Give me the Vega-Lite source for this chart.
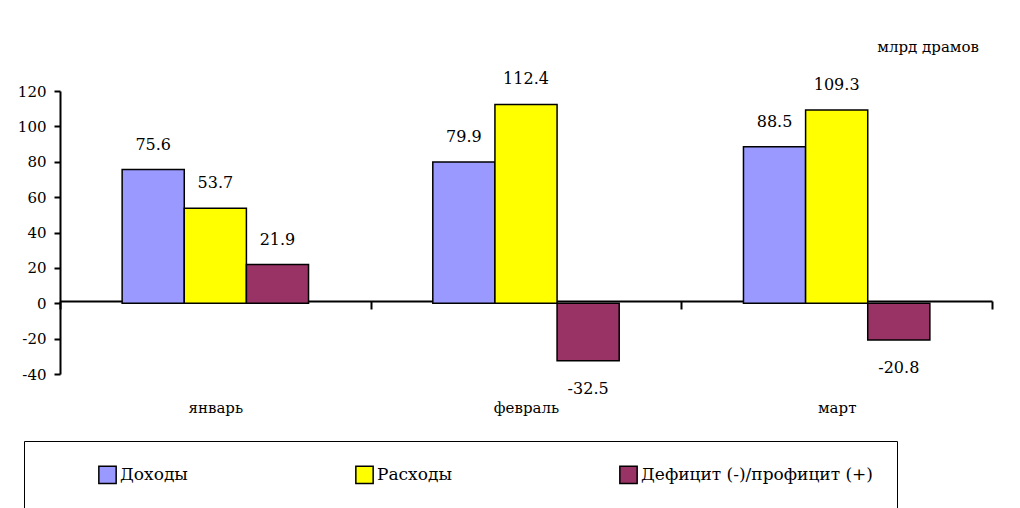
{
  "$schema": "https://vega.github.io/schema/vega-lite/v6.json",
  "width": 932,
  "height": 283,
  "autosize": {"type": "none"},
  "padding": {"left": 60, "top": 91, "right": 28, "bottom": 134},
  "background": "white",
  "title": {"text": "млрд драмов", "anchor": "end", "orient": "top", "offset": 16, "dx": -14, "font": "DejaVu Serif", "fontSize": 15, "fontWeight": "normal", "color": "black"},
  "data": {"values": [
    {"month": "январь", "series": "Доходы", "value": 75.6},
    {"month": "январь", "series": "Расходы", "value": 53.7},
    {"month": "январь", "series": "Дефицит (-)/профицит (+)", "value": 21.9},
    {"month": "февраль", "series": "Доходы", "value": 79.9},
    {"month": "февраль", "series": "Расходы", "value": 112.4},
    {"month": "февраль", "series": "Дефицит (-)/профицит (+)", "value": -32.5},
    {"month": "март", "series": "Доходы", "value": 88.5},
    {"month": "март", "series": "Расходы", "value": 109.3},
    {"month": "март", "series": "Дефицит (-)/профицит (+)", "value": -20.8}
  ]},
  "encoding": {
    "x": {
      "field": "month", "type": "nominal", "sort": ["январь", "февраль", "март"],
      "scale": {"paddingInner": 0, "paddingOuter": 0},
      "axis": {"title": null, "orient": "bottom", "offset": -73, "domainColor": "black", "domainWidth": 2, "tickBand": "extent", "tickColor": "black", "tickWidth": 2, "tickSize": 8, "labelPadding": 91, "labelFontSize": 15, "labelColor": "black", "labelAngle": 0, "labelFont": "DejaVu Serif"}
    },
    "xOffset": {
      "field": "series", "type": "nominal",
      "sort": ["Доходы", "Расходы", "Дефицит (-)/профицит (+)"],
      "scale": {"domain": ["Доходы", "Расходы", "Дефицит (-)/профицит (+)"], "paddingInner": 0, "paddingOuter": 1}
    },
    "y": {
      "field": "value", "type": "quantitative",
      "scale": {"domain": [-40, 120], "nice": false},
      "axis": {"title": null, "values": [-40, -20, 0, 20, 40, 60, 80, 100, 120], "labelExpr": "replace(datum.label, '−', '-')", "domainColor": "black", "domainWidth": 2, "tickColor": "black", "tickWidth": 2, "tickSize": 6, "labelPadding": 8, "labelFontSize": 15, "labelColor": "black", "grid": false, "labelFont": "DejaVu Serif"}
    }
  },
  "layer": [
    {
      "mark": {"type": "bar", "stroke": "black", "strokeWidth": 1.5},
      "encoding": {
        "color": {
          "field": "series", "type": "nominal",
          "scale": {"domain": ["Доходы", "Расходы", "Дефицит (-)/профицит (+)"], "range": ["#9999FF", "#FFFF00", "#993366"]},
          "legend": {"orient": "none", "legendX": -36, "legendY": 350, "direction": "horizontal", "columns": 3, "title": null, "symbolType": "square", "symbolSize": 300, "symbolStrokeColor": "black", "symbolStrokeWidth": 1.5, "labelFontSize": 17, "labelFont": "DejaVu Serif", "labelColor": "black", "strokeColor": "black", "padding": 24, "symbolOffset": 50, "columnPadding": 117, "labelOffset": 3, "labelLimit": 400}
        }
      }
    },
    {
      "transform": [{"filter": "datum.value >= 0"}],
      "mark": {"type": "text", "dy": -25, "baseline": "middle", "fontSize": 16, "font": "DejaVu Serif", "color": "black"},
      "encoding": {"text": {"field": "value", "type": "nominal"}}
    },
    {
      "transform": [{"filter": "datum.value < 0"}],
      "mark": {"type": "text", "dy": 28, "baseline": "middle", "fontSize": 16, "font": "DejaVu Serif", "color": "black"},
      "encoding": {"text": {"field": "value", "type": "nominal"}}
    }
  ],
  "config": {"view": {"stroke": null}, "font": "DejaVu Serif"}
}
